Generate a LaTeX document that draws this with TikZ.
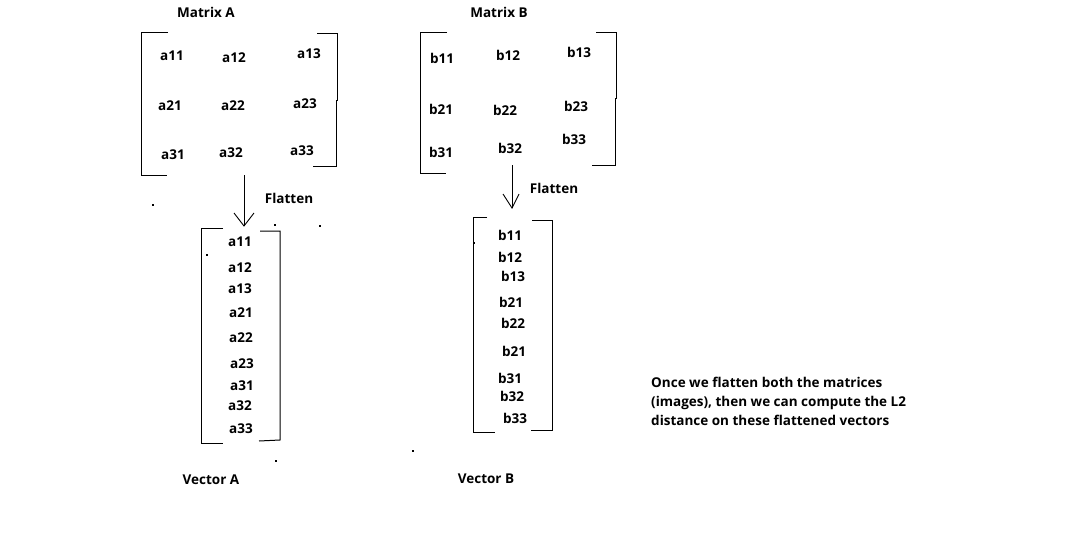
\documentclass[tikz,border=0pt]{standalone}
\usepackage{fontspec}
\setmainfont{Open Sans}
\begin{document}
\begin{tikzpicture}[x=1pt,y=-1pt,
  lbl/.style={inner sep=0pt,font=\fontsize{13.5}{16}\selectfont\bfseries},
  brk/.style={line width=1pt,black},
  arr/.style={line width=0.9pt,black},
  speck/.style={fill=black,inner sep=0pt,minimum size=1.5pt}]
\useasboundingbox[fill=white] (0,0) rectangle (1071,555);

% Matrix A
\node[lbl] (tA) at (206,12) {Matrix A};
\draw[brk] (168,32) -- (141,32) -- (141,175) -- (167,175);
\draw[brk] (317,33) -- (337,33) -- (337,100) -- (336,100) -- (336,166) -- (313,166);
\node[lbl] (a11) at (172,56) {a11};
\node[lbl] (a12) at (234,58) {a12};
\node[lbl] (a13) at (309,54) {a13};
\node[lbl] (a21) at (170,106) {a21};
\node[lbl] (a22) at (233,106) {a22};
\node[lbl] (a23) at (305,104) {a23};
\node[lbl] (a31) at (173,155) {a31};
\node[lbl] (a32) at (231,153) {a32};
\node[lbl] (a33) at (302,151) {a33};

% Arrow A
\coordinate (sA) at (244,175);
\coordinate (eA) at (244,226);
\draw[arr] (sA) -- (eA);
\draw[arr] (234,213) -- (eA) -- (254,213);
\node[lbl] (fA) at (289,198) {Flatten};

% Vector A
\draw[brk] (223,228) -- (201,228) -- (201,443) -- (223,443);
\draw[brk] (260,231) -- (280,231) -- (280,440) -- (259,441);
\node[lbl] (va11) at (240,242) {a11};
\node[lbl] (va12) at (240,268) {a12};
\node[lbl] (va13) at (240,289) {a13};
\node[lbl] (va21) at (241,313) {a21};
\node[lbl] (va22) at (241,338) {a22};
\node[lbl] (va23) at (242,364) {a23};
\node[lbl] (va31) at (242,386) {a31};
\node[lbl] (va32) at (240,406) {a32};
\node[lbl] (va33) at (241,429) {a33};
\node[lbl] (vA) at (211,480) {Vector A};

% Matrix B
\node[lbl] (tB) at (499,12) {Matrix B};
\draw[brk] (447,32) -- (420,32) -- (420,173) -- (446,173);
\draw[brk] (596,32) -- (616,32) -- (616,98) -- (615,98) -- (615,165) -- (592,165);
\node[lbl] (b11) at (442,58) {b11};
\node[lbl] (b12) at (508,55) {b12};
\node[lbl] (b13) at (579,52) {b13};
\node[lbl] (b21) at (441,109) {b21};
\node[lbl] (b22) at (505,110) {b22};
\node[lbl] (b23) at (576,106) {b23};
\node[lbl] (b31) at (441,152) {b31};
\node[lbl] (b32) at (510,148) {b32};
\node[lbl] (b33) at (574,139) {b33};

% Arrow B
\coordinate (sB) at (512,165);
\coordinate (eB) at (512,208);
\draw[arr] (sB) -- (eB);
\draw[arr] (503,194) -- (eB) -- (519,194);
\node[lbl] (fB) at (554,188) {Flatten};

% Vector B
\draw[brk] (487,217) -- (473,217) -- (473,432) -- (495,432);
\draw[brk] (532,220) -- (552,220) -- (552,430) -- (531,430);
\node[lbl] (vb11) at (510,235) {b11};
\node[lbl] (vb12) at (510,257) {b12};
\node[lbl] (vb13) at (513,276) {b13};
\node[lbl] (vb21) at (511,302) {b21};
\node[lbl] (vb22) at (513,323) {b22};
\node[lbl] (vb21b) at (514,351) {b21};
\node[lbl] (vb31) at (510,378) {b31};
\node[lbl] (vb32) at (512,396) {b32};
\node[lbl] (vb33) at (515,418) {b33};
\node[lbl] (vB) at (486,479) {Vector B};

% Note
\node[lbl,anchor=north west,align=left,font=\fontsize{13.5}{19}\selectfont\bfseries] (note) at (651,377)
  {Once we flatten both the matrices\\(images), then we can compute the L2\\distance on these flattened vectors};

% specks
\node[speck] (d1) at (153,205) {};
\node[speck] (d2) at (320,226) {};
\node[speck] (d3) at (207,255) {};
\node[speck] (d4) at (276,461) {};
\node[speck] (d5) at (413,451) {};
\node[speck] (d6) at (474,243) {};
\node[speck] (d7) at (275,225) {};
\end{tikzpicture}
\end{document}
